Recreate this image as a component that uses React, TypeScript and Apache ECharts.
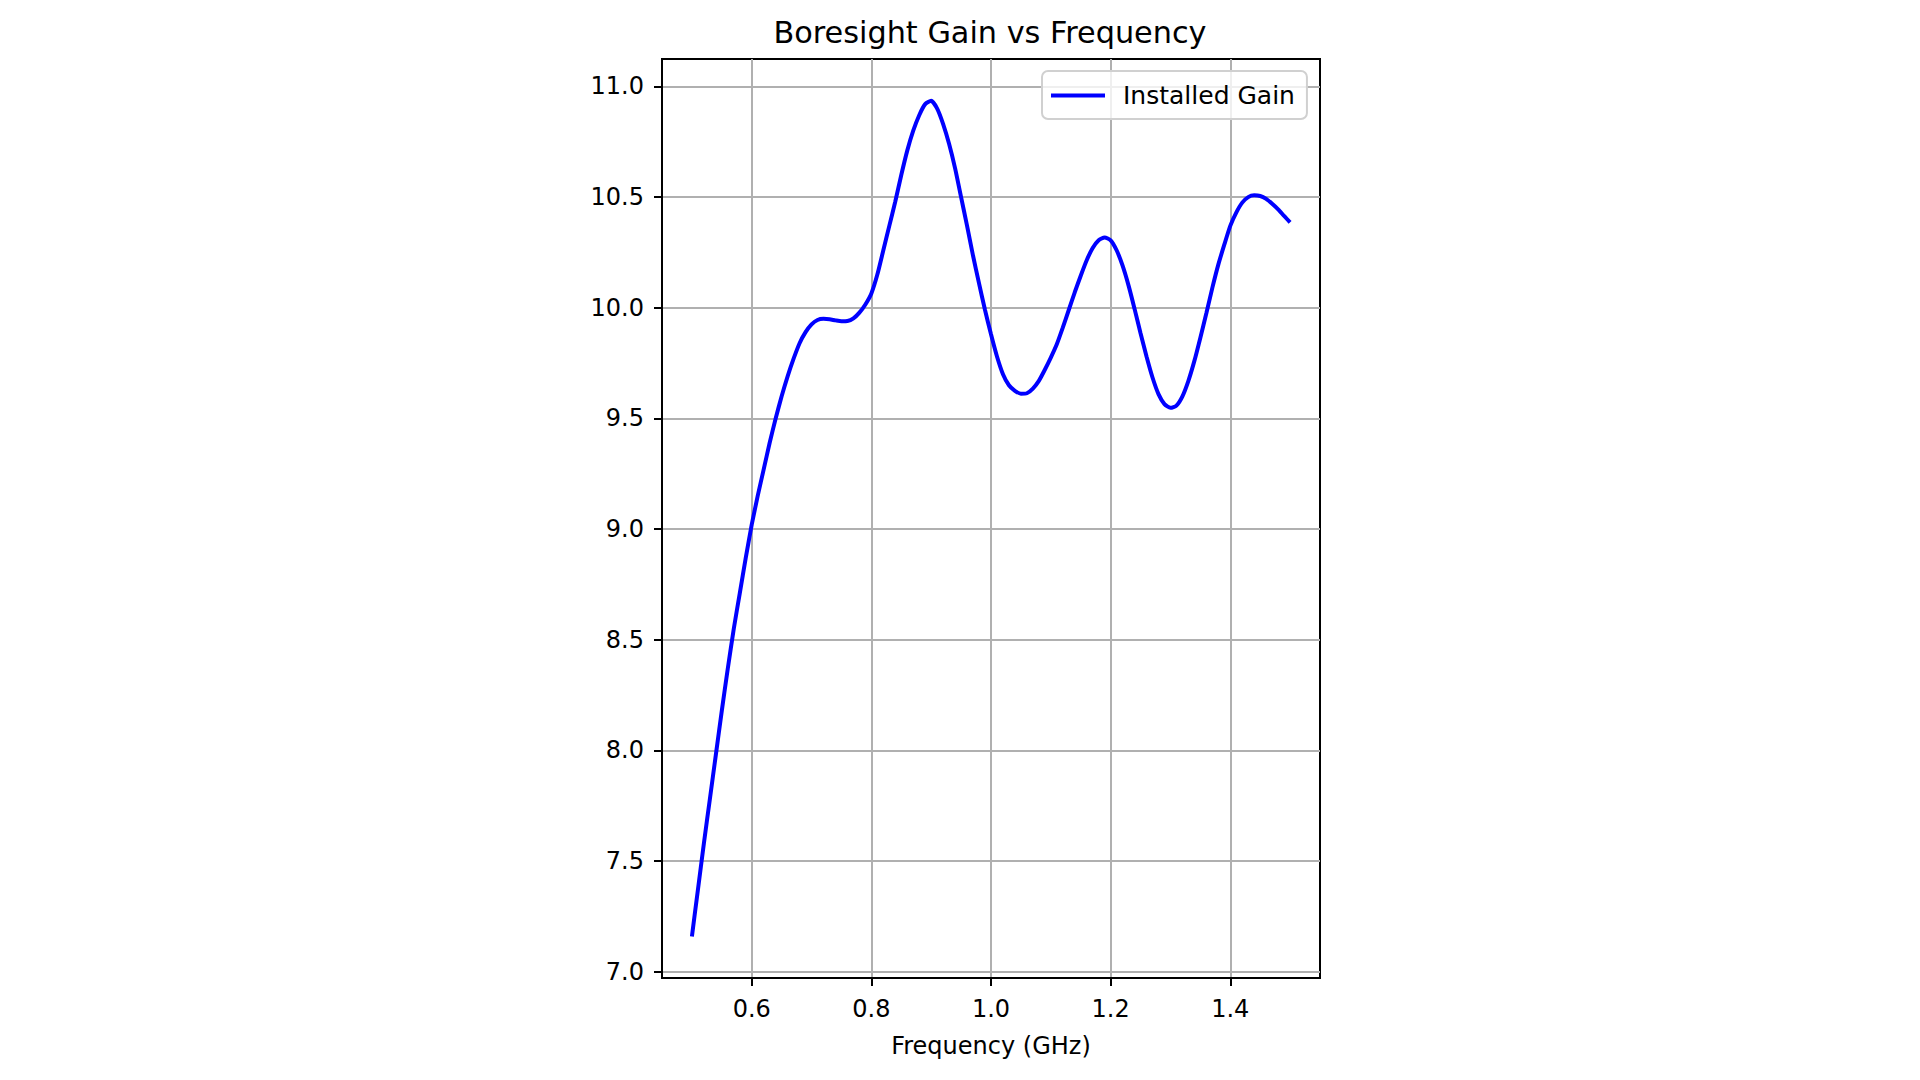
import { useEffect, useRef } from 'react'
import * as echarts from 'echarts'

// 频率 (GHz)，步长 0.01
const freqs = [
  0.5, 0.51, 0.52, 0.53, 0.54, 0.55, 0.56, 0.57, 0.58, 0.59,
  0.6, 0.61, 0.62, 0.63, 0.64, 0.65, 0.66, 0.67, 0.68, 0.69,
  0.7, 0.71, 0.72, 0.73, 0.74, 0.75, 0.76, 0.77, 0.78, 0.79,
  0.8, 0.81, 0.82, 0.83, 0.84, 0.85, 0.86, 0.87, 0.88, 0.89,
  0.9, 0.91, 0.92, 0.93, 0.94, 0.95, 0.96, 0.97, 0.98, 0.99,
  1.0, 1.01, 1.02, 1.03, 1.04, 1.05, 1.06, 1.07, 1.08, 1.09,
  1.1, 1.11, 1.12, 1.13, 1.14, 1.15, 1.16, 1.17, 1.18, 1.19,
  1.2, 1.21, 1.22, 1.23, 1.24, 1.25, 1.26, 1.27, 1.28, 1.29,
  1.3, 1.31, 1.32, 1.33, 1.34, 1.35, 1.36, 1.37, 1.38, 1.39,
  1.4, 1.41, 1.42, 1.43, 1.44, 1.45, 1.46, 1.47, 1.48, 1.49,
  1.5,
]
// 增益 (dBi)
const gains = [
  7.16, 7.37, 7.58, 7.78, 7.98, 8.18, 8.37, 8.55, 8.71, 8.87,
  9.02, 9.15, 9.27, 9.39, 9.5, 9.6, 9.69, 9.77, 9.84, 9.89,
  9.925, 9.945, 9.95, 9.948, 9.943, 9.939, 9.94, 9.952, 9.978, 10.015,
  10.065, 10.15, 10.26, 10.37, 10.48, 10.6, 10.71, 10.8, 10.87, 10.92,
  10.935, 10.9, 10.83, 10.74, 10.63, 10.5, 10.37, 10.235, 10.11, 9.99,
  9.88, 9.78, 9.7, 9.65, 9.625, 9.612, 9.614, 9.635, 9.67, 9.72,
  9.775, 9.835, 9.91, 9.99, 10.07, 10.145, 10.215, 10.27, 10.305, 10.318,
  10.305, 10.26, 10.19, 10.1, 9.995, 9.885, 9.78, 9.685, 9.61, 9.565,
  9.548, 9.558, 9.6, 9.67, 9.76, 9.865, 9.975, 10.09, 10.195, 10.285,
  10.37, 10.43, 10.475, 10.5, 10.508, 10.505, 10.492, 10.47, 10.445, 10.415,
  10.386,
]

const xTicks = [0.6, 0.8, 1.0, 1.2, 1.4]
const yTicks = [7.0, 7.5, 8.0, 8.5, 9.0, 9.5, 10.0, 10.5, 11.0]

const FONT = 'DejaVu Sans'

export default function App() {
  const containerRef = useRef<HTMLDivElement>(null)

  useEffect(() => {
    if (!containerRef.current) return
    const chart = echarts.init(containerRef.current, undefined, { renderer: 'svg' })

    const points = freqs.map((f, i) => [f, gains[i]])

    const option: echarts.EChartsOption = {
      animation: false,
      backgroundColor: '#ffffff',
      textStyle: { fontFamily: FONT, color: '#000' },
      title: {
        text: 'Boresight Gain vs Frequency',
        left: 985,
        top: 12,
        textAlign: 'center',
        textStyle: { fontFamily: FONT, fontSize: 30.3, fontWeight: 'normal', color: '#000' },
      },
      legend: {
        data: [{ name: 'Installed Gain', icon: 'rect' }],
        left: 1042,
        top: 71,
        orient: 'vertical',
        itemWidth: 54,
        itemHeight: 4,
        padding: [12, 12, 11, 9],
        backgroundColor: 'rgba(255,255,255,0.8)',
        borderColor: '#d0d0d0',
        borderWidth: 2,
        borderRadius: 6,
        itemStyle: { color: '#0000ff' },
        textStyle: { fontFamily: FONT, fontSize: 25, color: '#000', padding: [0, 0, 0, 13] },
      },
      grid: {
        left: 662,
        top: 59,
        width: 658,
        height: 919,
        show: true,
        borderColor: '#000',
        borderWidth: 2,
        containLabel: false,
      },
      xAxis: {
        type: 'value',
        min: 0.45,
        max: 1.55,
        name: 'Frequency (GHz)',
        nameLocation: 'middle',
        nameGap: 56,
        nameTextStyle: { fontFamily: FONT, fontSize: 24, color: '#000' },
        axisLine: { show: true, lineStyle: { color: '#000', width: 2 } },
        axisTick: { show: true, inside: false, length: 8, lineStyle: { color: '#000', width: 2 }, customValues: xTicks },
        axisLabel: {
          fontFamily: FONT,
          fontSize: 24,
          color: '#000',
          margin: 19,
          customValues: xTicks,
          formatter: (v: number) => v.toFixed(1),
        },
        splitLine: { show: true, lineStyle: { color: '#b0b0b0', width: 2 } },
      },
      yAxis: {
        type: 'value',
        min: 6.972,
        max: 11.124,
        axisLine: { show: true, lineStyle: { color: '#000', width: 2 } },
        axisTick: { show: true, inside: false, length: 8, lineStyle: { color: '#000', width: 2 }, customValues: yTicks },
        axisLabel: {
          fontFamily: FONT,
          fontSize: 24,
          color: '#000',
          margin: 18,
          customValues: yTicks,
          formatter: (v: number) => v.toFixed(1),
        },
        splitLine: { show: true, lineStyle: { color: '#b0b0b0', width: 2 } },
      },
      series: [
        {
          type: 'line',
          name: 'Installed Gain',
          data: points,
          symbol: 'none',
          smooth: 0.2,
          lineStyle: { color: '#0000ff', width: 4 },
          itemStyle: { color: '#0000ff' },
        },
      ],
    }

    chart.setOption(option)

    return () => {
      chart.dispose()
    }
  }, [])

  return (
    <div
      ref={containerRef}
      style={{ position: 'fixed', left: 0, top: 0, width: 1920, height: 1080 }}
    />
  )
}
